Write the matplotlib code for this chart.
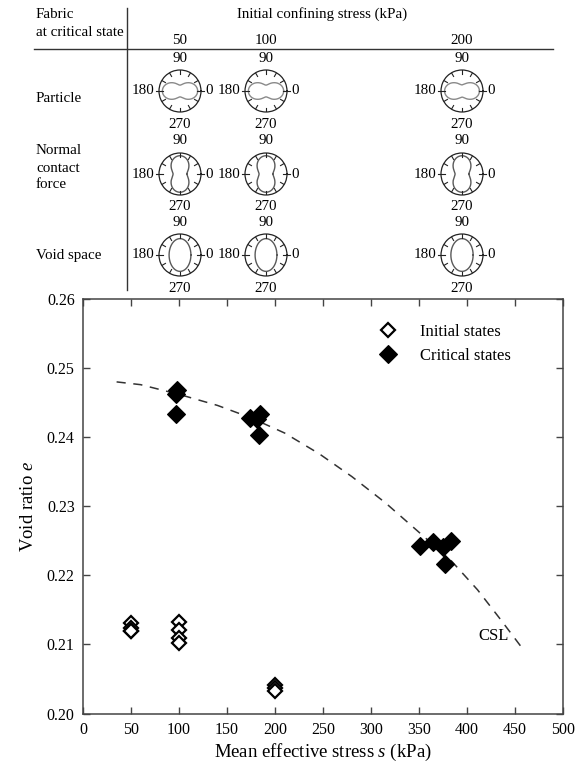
import numpy as np
import matplotlib
matplotlib.use('Agg')
import matplotlib.pyplot as plt
from matplotlib.lines import Line2D

plt.rcParams['font.family'] = ['Liberation Serif', 'DejaVu Serif']
plt.rcParams['mathtext.fontset'] = 'custom'
plt.rcParams['mathtext.rm'] = 'Liberation Serif'
plt.rcParams['mathtext.it'] = 'Liberation Serif:italic'

# ---------------- data ----------------
init_s = [50, 50, 50, 50, 100, 100, 100, 100, 200, 200, 200]
init_e = [0.2131, 0.2124, 0.2120, 0.2119, 0.2133, 0.2121, 0.2110, 0.2102, 0.2041, 0.2037, 0.2032]

crit_s = [97, 98, 97, 174, 181, 184, 183, 351, 365, 375, 383, 377]
crit_e = [0.2463, 0.2468, 0.2434, 0.2428, 0.2426, 0.2433, 0.2403, 0.2242, 0.2248, 0.2241, 0.2249, 0.2217]

csl_s = [35, 60, 100, 140, 175, 210, 246, 280, 315, 347, 383, 411, 435, 460]
csl_e = [0.2480, 0.2476, 0.2462, 0.2446, 0.2428, 0.2406, 0.2376, 0.2343, 0.2305, 0.2266, 0.2222, 0.2179, 0.2136, 0.2090]

x_ticks = [0, 50, 100, 150, 200, 250, 300, 350, 400, 450, 500]
y_ticks = [0.20, 0.21, 0.22, 0.23, 0.24, 0.25, 0.26]

confining = ['50', '100', '200']
row_names = ['Particle', 'Normal\ncontact\nforce', 'Void space']
angle_labels = ['0', '90', '180', '270']

# fabric rose parameters r = a (1 + b cos 2(theta - theta0)), one per confining stress
particle_a = [0.56, 0.56, 0.56]
particle_b = [0.50, 0.50, 0.48]
particle_dir = 0
force_a = [0.60, 0.60, 0.60]
force_b = [0.45, 0.45, 0.45]
force_dir = 90
# void space: ellipse semi-axes (horizontal, vertical)
void_h = [0.52, 0.52, 0.53]
void_v = [0.78, 0.78, 0.78]

# ---------------- figure ----------------
W, H = 575, 767
fig = plt.figure(figsize=(W / 100, H / 100), dpi=100)


def fx(x):
    return x / W


def fy(y):
    return 1 - y / H


# main axes
L, R, T, B = 83, 563, 299, 713.5
ax = fig.add_axes([fx(L), fy(B), (R - L) / W, (B - T) / H])
ax.plot(csl_s, csl_e, color='#333333', lw=1.1, dashes=(6, 5))
ax.plot(init_s, init_e, linestyle='none', marker='D', ms=7.5, mfc='white', mec='black', mew=1.6,
        label='Initial states')
ax.plot(crit_s, crit_e, linestyle='none', marker='D', ms=9, mfc='black', mec='black', mew=0.8,
        label='Critical states')
ax.text(444, 0.2112, 'CSL', ha='right', va='center', fontsize=12)
ax.set_xlim(0, 500)
ax.set_ylim(0.20, 0.26)
ax.set_xticks(x_ticks)
ax.set_yticks(y_ticks)
ax.set_yticklabels([f'{v:.2f}' for v in y_ticks])
ax.tick_params(direction='in', top=True, right=True, length=5, width=1, labelsize=11.5, pad=6,
               color='#444444')
for sp in ax.spines.values():
    sp.set_color('#444444')
    sp.set_linewidth(1.1)
ax.set_xlabel('Mean effective stress $s$ (kPa)', fontsize=13.5, labelpad=3)
ax.set_ylabel('Void ratio $e$', fontsize=13.5, labelpad=7)
leg = ax.legend(loc='upper left', bbox_to_anchor=(0.618, 0.94), frameon=False, fontsize=12,
                handlelength=1.0, handletextpad=1.4, labelspacing=0.5, borderpad=0,
                borderaxespad=0)

# ---------------- fabric table ----------------
fig.add_artist(Line2D([fx(34), fx(553)], [fy(48.5), fy(48.5)], color='#333333', lw=1))
fig.add_artist(Line2D([fx(126.5), fx(126.5)], [fy(8), fy(290)], color='#333333', lw=1))

fs = 10.8
fig.text(fx(36), fy(14), 'Fabric', ha='left', va='center', fontsize=fs)
fig.text(fx(36), fy(32), 'at critical state', ha='left', va='center', fontsize=fs)
fig.text(fx(322), fy(14), 'Initial confining stress (kPa)', ha='center', va='center', fontsize=fs)

col_x = [180, 266, 462]
row_y = [91, 174, 255]
row_label_y = [99, 168, 255]
for lab, y in zip(row_names, row_label_y):
    fig.text(fx(36), fy(y), lab, ha='left', va='center', fontsize=fs, linespacing=1.4)
for lab, x in zip(confining, col_x):
    fig.text(fx(x), fy(40), lab, ha='center', va='center', fontsize=fs)

rad = 21
theta = np.linspace(0, 2 * np.pi, 361)
ticks_deg = np.arange(0, 360, 30)
for i in range(3):
    cy = row_y[i]
    for j, cx in enumerate(col_x):
        pax = fig.add_axes([fx(cx - rad), fy(cy + rad), 2 * rad / W, 2 * rad / H], projection='polar')
        pax.set_ylim(0, 1)
        pax.set_xticks([])
        pax.set_yticks([])
        pax.grid(False)
        pax.spines['polar'].set_linewidth(0.9)
        pax.spines['polar'].set_color('#222222')
        if i == 0:
            r = particle_a[j] * (1 + particle_b[j] * np.cos(2 * (theta - np.deg2rad(particle_dir))))
            col = '#8a8a8a'
        elif i == 1:
            r = force_a[j] * (1 + force_b[j] * np.cos(2 * (theta - np.deg2rad(force_dir))))
            col = '#5a5a5a'
        else:
            r = 1 / np.sqrt((np.cos(theta) / void_h[j]) ** 2 + (np.sin(theta) / void_v[j]) ** 2)
            col = '#5a5a5a'
        pax.plot(theta, r, color=col, lw=1.0)
        for t in ticks_deg:
            tr = np.deg2rad(t)
            if t in (0, 180):
                pax.plot([tr, tr], [0.8, 1.13], color='#222222', lw=0.8, clip_on=False)
            else:
                pax.plot([tr, tr], [0.8, 1.0], color='#222222', lw=0.8)
        fig.text(fx(cx + 25), fy(cy), angle_labels[0], ha='left', va='center', fontsize=fs)
        fig.text(fx(cx), fy(cy - 33), angle_labels[1], ha='center', va='center', fontsize=fs)
        fig.text(fx(cx - 26), fy(cy), angle_labels[2], ha='right', va='center', fontsize=fs)
        fig.text(fx(cx), fy(cy + 33), angle_labels[3], ha='center', va='center', fontsize=fs)

fig.savefig('out.png', dpi=100)
